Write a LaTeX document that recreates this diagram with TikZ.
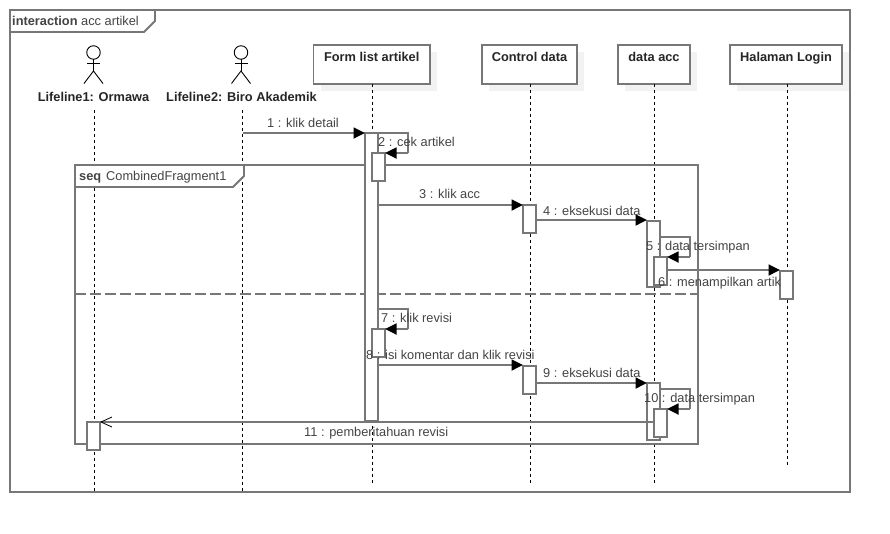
\documentclass[tikz,border=0pt]{standalone}
\usepackage{fontspec}
\setmainfont{Liberation Sans}
\usetikzlibrary{arrows.meta,shadows}
\definecolor{umlline}{HTML}{777777}
\definecolor{umltext}{HTML}{444444}
\definecolor{umlshadow}{HTML}{F2F2F2}
\tikzset{
  umlframe/.style={draw=umlline,line width=1.8pt,line join=miter},
  life/.style={draw=black,line width=1pt,dash pattern=on 3pt off 3pt},
  headbox/.style={draw=umlline,line width=1.8pt,fill=white,inner sep=0pt,outer sep=0pt,
    drop shadow={shadow xshift=7pt,shadow yshift=-7pt,fill=umlshadow,opacity=1}},
  actbox/.style={draw=umlline,line width=1.8pt,fill=white,inner sep=0pt,outer sep=0pt},
  msgline/.style={draw=umlline,line width=1.8pt},
  call/.style={msgline,-{Triangle[length=11.5pt,width=11pt,black,fill=black]}},
  reply/.style={msgline,-{Straight Barb[length=11pt,width=10pt,black,line width=.8pt]}},
  lbl/.style={inner sep=0pt,anchor=west,text=umltext,text height=9pt,text depth=0pt,font=\fontsize{12.8}{14}\selectfont},
  blbl/.style={inner sep=0pt,text=black!85,text height=9pt,text depth=0pt,font=\fontsize{12.8}{14}\selectfont\bfseries},
  stick/.style={draw=black,line width=.9pt},
  headc/.style={circle,draw=black,line width=.9pt,inner sep=0pt,minimum size=13.5pt,outer sep=0pt},
}
\newcommand{\actv}[5]{\node[actbox,minimum width={#4pt-#2pt},minimum height={#5pt-#3pt}] (#1) at ({(#2+#4)/2},{(#3+#5)/2}) {};}
\newcommand{\lifehead}[4]{\node[headbox,minimum width={#4pt-#3pt},minimum height=39pt] (#1) at ({(#3+#4)/2},64.5) {};
  \node[blbl,anchor=center] (#1t) at ({(#3+#4)/2},57) {#2};}
\newcommand{\stickman}[3]{%
  \node[headc] (#1) at (#2,#3) {};
  \coordinate (#1h) at (#2,#3+18.5);
  \draw[stick] (#1.south) -- (#1h);
  \draw[stick] (#2-6.5,#3+10.5) -- (#2+6.5,#3+10.5);
  \draw[stick] (#2-9.5,#3+31) -- (#1h) -- (#2+9.5,#3+31);}
\begin{document}
\begin{tikzpicture}[x=1pt,y=-1pt]
\useasboundingbox (0,0) rectangle (890,533);
\fill[white] (0,0) rectangle (890,533);
% outer frame
\draw[umlframe,fill=white] (10,10) rectangle (850,492);
\draw[umlframe] (10,10) -- (155,10) -- (155,21) -- (144,32) -- (10,32) -- cycle;
\node[lbl] (title) at (12,20.5) {\textbf{interaction} acc artikel};
% heads
\stickman{ormawa}{93.5}{52.5}
\stickman{biro}{241}{52.5}
\node[blbl] (ormawat) at (93.5,97) {Lifeline1: Ormawa};
\node[blbl] (birot) at (241.5,97) {Lifeline2: Biro Akademik};
\lifehead{form}{Form list artikel}{313.5}{430}
\lifehead{ctrl}{Control data}{482}{577}
\lifehead{acc}{data acc}{618}{690}
\lifehead{login}{Halaman Login}{730}{842}
% lifeline ends
\coordinate (ormawaS) at (94,110); \coordinate (ormawaE) at (94,492);
\coordinate (biroS) at (242.5,110); \coordinate (biroE) at (242.5,492);
\coordinate (formE) at (372,485);
\coordinate (ctrlE) at (530,485);
\coordinate (accE) at (654,485);
\coordinate (loginE) at (787,466);
\draw[life] (ormawaS) -- (ormawaE);
\draw[life] (biroS) -- (biroE);
\draw[life] (form.south -| formE) -- (formE);
\draw[life] (ctrl.south -| ctrlE) -- (ctrlE);
\draw[life] (acc.south -| accE) -- (accE);
\draw[life] (login.south -| loginE) -- (loginE);
% combined fragment
\coordinate (fragTL) at (75,165); \coordinate (fragBR) at (698,444);
\draw[umlframe] (fragTL) rectangle (fragBR);
\draw[umlframe,fill=white] (75,165) -- (244,165) -- (244,176) -- (233,187) -- (75,187) -- cycle;
\coordinate (sepL) at (75,294); \coordinate (sepR) at (698,294);
\draw[umlline,line width=1.8pt,dash pattern=on 11pt off 4pt] (sepL) -- (sepR);
% activations (outer)
\actv{a1}{365}{133}{378}{421}
\actv{a3}{523}{205}{536}{233}
\actv{a4}{647}{221}{660}{287}
\actv{a6}{780}{271}{793}{299}
\actv{a8}{523}{366}{536}{394}
\actv{a9}{647}{383}{660}{440}
\actv{a11}{87}{422}{100}{450}
% inner activations
\actv{a2}{372}{153}{385}{181}
\actv{a5}{654}{257}{667}{285}
\actv{a7}{372}{329}{385}{357}
\actv{a10}{654}{409}{667}{437}
% messages
\draw[call] (biroS |- a1.north) -- (a1.north west);
\draw[msgline] (a1.north east) -- (408,133) -- (408,153);
\draw[call] (408,153) -- (a2.north east);
\draw[call] (a1.east |- a3.north) -- (a3.north west);
\draw[call] (a3.east |- 0,220) -- (a4.west |- 0,220);
\draw[msgline] (a4.east |- 0,237) -- (690,237) -- (690,257);
\draw[call] (690,257) -- (a5.north east);
\draw[call] (a5.east |- 0,270) -- (a6.west |- 0,270);
\draw[msgline] (a1.east |- 0,309) -- (408,309) -- (408,329);
\draw[call] (408,329) -- (a7.north east);
\draw[call] (a1.east |- 0,365) -- (a8.west |- 0,365);
\draw[call] (a8.east |- 0,383) -- (a9.north west);
\draw[msgline] (a9.east |- 0,389) -- (690,389) -- (690,409);
\draw[call] (690,409) -- (a10.north east);
\draw[reply] (a10.west |- a11.north) -- (a11.north east);
% labels
\node[lbl] (m1) at (267,122.5) {1 : klik detail};
\node[lbl] (m2) at (378,141.5) {2 : cek artikel};
\node[lbl] (m3) at (419,194) {3 : klik acc};
\node[lbl] (m4) at (543,210.5) {4 : eksekusi data};
\node[lbl] (m5) at (646,245.5) {5 : data tersimpan};
\node[lbl] (m6) at (658,281.5) {6 : menampilkan artik};
\node[lbl] (m7) at (381,317.5) {7 : klik revisi};
\node[lbl] (m8) at (366,355) {8 : isi komentar dan klik revisi};
\node[lbl] (m9) at (543,372.5) {9 : eksekusi data};
\node[lbl] (m10) at (644,397.5) {10 : data tersimpan};
\node[lbl] (m11) at (304,431.5) {11 : pemberitahuan revisi};
\node[lbl] (fragt) at (79,176) {\textbf{seq}};
\node[lbl] (fragn) at (106,176) {CombinedFragment1};
\end{tikzpicture}
\end{document}
